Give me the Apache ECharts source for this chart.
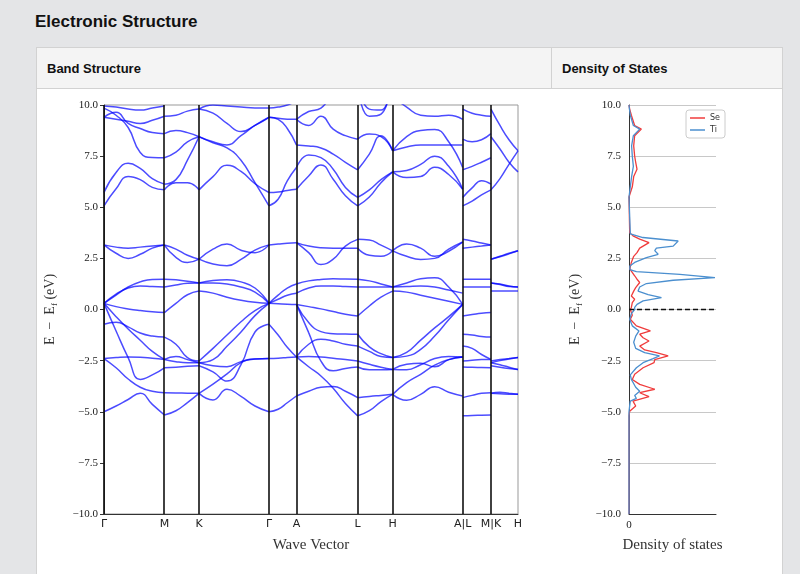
<!DOCTYPE html>
<html>
<head>
<meta charset="UTF-8">
<title>Electronic Structure</title>
<script src="https://cdn.jsdelivr.net/npm/echarts/dist/echarts.min.js"></script>
<style>
  body { margin:0; background:#e4e5e7; width:800px; height:574px; overflow:hidden; font-family:'Liberation Sans', Arial, sans-serif; }
  #title { position:absolute; left:35px; top:12px; font-size:17px; font-weight:bold; color:#111; }
  #panel { position:absolute; left:36px; top:47px; width:745px; height:540px; background:#fff; border:1px solid #d2d2d2; }
  #head { position:relative; height:40px; background:#f4f4f4; border-bottom:1px solid #d2d2d2; }
  #head .col1 { position:absolute; left:0; top:0; width:514px; height:40px; border-right:1px solid #d2d2d2; }
  #head span { position:absolute; top:13px; font-size:13px; font-weight:bold; color:#111; }
  #main { position:absolute; left:0; top:0; width:800px; height:574px; }
</style>
</head>
<body>
<div id="title">Electronic Structure</div>
<div id="panel">
  <div id="head">
    <div class="col1"><span style="left:10px">Band Structure</span></div>
    <span style="left:525px">Density of States</span>
  </div>
</div>
<div id="main"></div>

<script type="text/javascript">
// high symmetry points along the path
var kNodes = [0, 1.025, 1.613, 2.801, 3.267, 4.307, 4.901, 6.090, 6.570, 7.029];
var kLabels = ['\u0393', 'M', 'K', '\u0393', 'A', 'L', 'H', 'A|L', 'M|K', 'H'];

// band energies (eV) sampled evenly along each segment
var bandsGM = [
  [0.3, 0.14, 0.03, -0.05, -0.11, -0.15],
  [-0.72, -0.62, -0.85, -1.15, -1.3, -1.35],
  [0.3, -0.35, -0.95, -1.5, -2.05, -2.44],
  [0.3, -1.05, -2.35, -3.42, -3.2, -2.85],
  [-2.4, -2.35, -2.32, -2.33, -2.38, -2.44],
  [-2.4, -2.85, -3.4, -3.8, -4.0, -4.07],
  [-5.0, -4.72, -4.4, -4.1, -4.64, -5.16],
  [0.3, 0.75, 1.05, 1.15, 1.12, 1.1],
  [0.3, 0.7, 1.1, 1.35, 1.47, 1.48],
  [3.16, 3.05, 3.0, 3.05, 3.1, 3.15],
  [3.16, 2.75, 2.5, 2.7, 3.0, 3.15],
  [5.07, 5.9, 6.5, 6.35, 5.97, 5.85],
  [5.72, 6.7, 7.15, 6.9, 6.4, 6.13],
  [9.85, 9.5, 8.9, 7.68, 7.43, 7.42],
  [9.4, 9.64, 9.1, 8.85, 8.65, 8.6],
  [9.4, 9.3, 9.2, 9.1, 9.25, 9.45],
  [9.95, 9.9, 9.8, 9.75, 9.85, 9.95]
];
var bandsMK = [
  [-0.15, 0.3, 0.72, 0.9],
  [-1.35, -1.7, -2.35, -2.52],
  [-2.44, -2.3, -2.45, -2.6],
  [-2.44, -2.55, -2.6, -2.6],
  [-2.85, -2.82, -2.78, -2.75],
  [-4.07, -4.08, -4.09, -4.1],
  [-5.16, -4.95, -4.55, -4.1],
  [1.1, 1.2, 1.28, 1.3],
  [1.48, 1.45, 1.38, 1.3],
  [3.15, 2.95, 2.65, 2.46],
  [3.15, 2.55, 2.3, 2.46],
  [5.85, 6.2, 6.2, 5.85],
  [6.13, 6.35, 7.3, 8.45],
  [7.42, 7.7, 8.2, 8.45],
  [8.6, 8.75, 8.65, 8.45],
  [9.45, 9.5, 9.7, 9.8]
];
var bandsKG = [
  [0.9, 0.8, 0.6, 0.45, 0.35, 0.3],
  [-2.52, -1.9, -1.25, -0.6, -0.05, 0.3],
  [-2.6, -2.45, -1.8, -1.1, -0.3, 0.3],
  [-2.75, -3.05, -3.5, -2.7, -1.1, -0.72],
  [-2.6, -2.75, -2.8, -2.55, -2.42, -2.4],
  [-4.1, -3.65, -3.15, -2.6, -2.42, -2.4],
  [-4.1, -4.42, -3.9, -4.25, -4.72, -5.0],
  [1.3, 1.3, 1.25, 1.1, 0.85, 0.3],
  [1.3, 1.42, 1.45, 1.35, 1.05, 0.3],
  [2.46, 2.95, 3.2, 2.9, 2.78, 3.16],
  [2.46, 2.22, 2.14, 2.45, 2.9, 3.16],
  [5.85, 6.5, 7.05, 6.75, 6.15, 5.72],
  [8.45, 8.15, 7.9, 7.3, 6.2, 5.07],
  [8.45, 8.2, 8.05, 8.5, 9.0, 9.4],
  [9.8, 9.6, 9.1, 8.7, 9.0, 9.4],
  [9.8, 10.0, 9.95, 9.9, 9.85, 9.85]
];
var bandsGA = [
  [0.3, 0.28, 0.26, 0.25],
  [-0.72, -1.25, -1.85, -2.32],
  [-2.4, -2.38, -2.35, -2.32],
  [-5.0, -4.88, -4.56, -4.23],
  [0.3, 0.5, 0.7, 0.8],
  [0.3, 0.7, 1.05, 1.25],
  [3.16, 3.2, 3.24, 3.27],
  [5.72, 5.75, 5.82, 5.88],
  [5.07, 5.39, 6.29, 6.94],
  [9.4, 9.3, 8.85, 8.05],
  [9.4, 9.35, 9.3, 9.3],
  [9.85, 9.9, 10.0, 10.2]
];
var bandsAL = [
  [0.25, 0.14, 0.03, -0.1, -0.23, -0.32],
  [0.25, -0.64, -1.08, -1.18, -1.2, -1.21],
  [0.25, -1.13, -2.52, -3.0, -2.88, -2.81],
  [-2.32, -1.7, -1.46, -1.54, -1.7, -1.79],
  [-2.32, -2.3, -2.32, -2.38, -2.45, -2.52],
  [-2.32, -2.8, -3.25, -3.85, -4.6, -5.2],
  [-4.23, -4.0, -3.8, -3.76, -4.0, -4.31],
  [0.8, 1.05, 1.15, 1.15, 1.12, 1.1],
  [1.25, 1.4, 1.47, 1.5, 1.49, 1.48],
  [3.27, 3.1, 3.02, 3.0, 3.0, 3.0],
  [3.27, 2.78, 2.2, 2.46, 3.1, 3.43],
  [5.88, 6.53, 7.07, 6.37, 5.56, 5.07],
  [6.94, 7.55, 7.43, 6.86, 5.97, 5.48],
  [8.05, 8.0, 7.9, 7.6, 7.2, 6.83],
  [9.3, 9.0, 9.45, 8.82, 8.5, 8.33],
  [9.3, 9.68, 9.85, 10.6, 11.2, 11.8]
];
var bandsLH = [
  [-0.32, 0.17, 0.6, 0.9],
  [-1.21, -1.83, -2.16, -2.35],
  [-1.79, -2.05, -2.3, -2.35],
  [-2.52, -2.68, -2.82, -2.93],
  [-2.81, -2.95, -2.95, -2.93],
  [-5.2, -4.95, -4.5, -4.15],
  [-4.31, -4.25, -4.2, -4.15],
  [1.1, 1.1, 1.1, 1.1],
  [1.48, 1.4, 1.25, 1.1],
  [3.43, 3.4, 3.15, 2.87],
  [3.0, 2.65, 2.6, 2.87],
  [5.07, 5.5, 6.2, 6.73],
  [5.48, 5.85, 6.35, 6.73],
  [6.83, 7.6, 8.5, 7.76],
  [8.33, 8.58, 8.45, 7.76],
  [11.0, 9.45, 9.55, 11.5],
  [11.2, 9.8, 9.75, 11.6]
];
var bandsHA = [
  [0.9, 0.85, 0.7, 0.55, 0.4, 0.25],
  [1.1, 1.3, 1.5, 1.55, 1.1, 0.25],
  [1.1, 1.12, 1.15, 1.1, 0.95, 0.8],
  [-2.35, -2.28, -1.95, -1.3, -0.5, 0.25],
  [-2.35, -2.1, -1.5, -0.9, -0.35, 0.25],
  [-2.93, -2.68, -2.63, -2.8, -2.45, -2.32],
  [-2.93, -2.95, -2.7, -2.4, -2.3, -2.32],
  [-4.15, -3.58, -3.17, -2.72, -2.45, -2.32],
  [-4.15, -4.44, -4.15, -3.78, -4.05, -4.23],
  [2.87, 3.2, 3.0, 2.6, 2.85, 3.3],
  [2.87, 2.6, 2.45, 2.5, 2.95, 3.3],
  [6.73, 6.8, 7.1, 7.5, 7.0, 5.88],
  [6.73, 6.45, 6.5, 6.95, 6.6, 5.88],
  [7.76, 8.45, 8.75, 8.8, 8.2, 6.94],
  [7.76, 7.95, 8.05, 8.05, 8.05, 8.05],
  [10.4, 9.9, 9.5, 9.45, 9.5, 9.3]
];
var bandsLM = [
  [-0.32, -0.25, -0.18, -0.15],
  [-1.21, -1.25, -1.32, -1.35],
  [-1.79, -1.9, -2.2, -2.44],
  [-2.52, -2.48, -2.45, -2.44],
  [-2.81, -2.83, -2.84, -2.85],
  [-4.31, -4.2, -4.1, -4.07],
  [-5.2, -5.18, -5.17, -5.16],
  [1.1, 1.1, 1.1, 1.1],
  [1.48, 1.48, 1.48, 1.48],
  [3.43, 3.35, 3.25, 3.15],
  [3.0, 3.05, 3.1, 3.15],
  [5.07, 5.3, 5.6, 5.85],
  [5.48, 5.95, 6.3, 6.13],
  [6.83, 7.0, 7.2, 7.42],
  [8.33, 8.2, 8.3, 8.6],
  [9.8, 9.6, 9.5, 9.45]
];
var bandsKH = [
  [0.9, 0.9, 0.9, 0.9],
  [1.3, 1.25, 1.15, 1.1],
  [1.3, 1.22, 1.12, 1.1],
  [-2.52, -2.45, -2.4, -2.35],
  [-2.6, -2.5, -2.42, -2.35],
  [-2.6, -2.7, -2.82, -2.93],
  [-2.75, -2.82, -2.88, -2.93],
  [-4.1, -4.12, -4.14, -4.15],
  [-4.1, -4.05, -4.1, -4.15],
  [2.46, 2.6, 2.75, 2.87],
  [2.46, 2.58, 2.72, 2.87],
  [5.85, 6.4, 7.1, 7.76],
  [8.45, 7.85, 7.2, 6.73],
  [9.8, 9.0, 8.3, 7.76]
];

// density of states (energy, dos)
var seE = [10.0, 9.8, 9.5, 9.0, 8.82, 8.5, 8.0, 7.5, 7.2, 6.86, 6.5, 6.0, 5.5, 3.76, 3.6, 3.44, 3.27, 3.0, 2.78, 2.6, 2.3, 2.21, 2.0, 1.88, 1.65, 1.48, 1.32, 1.07, 0.9, 0.66, 0.5, 0.34, 0.1, 0.0, -0.28, -0.48, -0.8, -1.05, -1.21, -1.38, -1.54, -1.79, -1.98, -2.11, -2.27, -2.45, -2.6, -2.85, -3.17, -3.42, -3.66, -3.9, -4.07, -4.26, -4.48, -4.72, -4.97, -5.2, -10.0];
var seDos = [0, 0.08, 0.27, 0.65, 1.42, 0.65, 0.54, 0.65, 0.77, 0.92, 0.54, 0.38, 0, 0.08, 0.46, 1.23, 2.3, 1.23, 0.92, 0.54, 0.27, 0.08, 0.1, 0.27, 0.65, 0.92, 1.23, 0.77, 0.54, 0.27, 0.65, 0.38, 0.27, 0.15, 0.38, 0.15, 0.85, 2.46, 1.23, 1.62, 2.3, 1.23, 1.8, 3.15, 4.5, 2.96, 2.88, 1.62, 0.65, 0.38, 1.23, 2.96, 1.23, 2.3, 0.46, 0.77, 0.08, 0, 0];
var tiE = [10.0, 9.8, 9.5, 9.0, 8.82, 8.5, 8.0, 7.5, 7.0, 6.5, 6.0, 5.5, 3.7, 3.52, 3.35, 3.1, 3.0, 2.88, 2.7, 2.54, 2.3, 2.13, 1.95, 1.85, 1.72, 1.56, 1.43, 1.27, 1.1, 0.9, 0.73, 0.58, 0.42, 0.25, 0.1, 0.0, -0.2, -0.48, -0.8, -1.05, -1.3, -1.6, -1.9, -2.11, -2.27, -2.4, -2.6, -2.85, -3.2, -3.42, -3.8, -4.0, -4.2, -4.35, -4.48, -4.7, -5.0, -10.0];
var tiDos = [0, 0.05, 0.15, 0.5, 1.23, 0.5, 0.3, 0.38, 0.5, 0.3, 0.15, 0, 0.15, 1.6, 5.65, 5.08, 3.15, 2.96, 3.35, 2.0, 0.65, 0.1, 0.1, 0.85, 5.85, 9.88, 5.08, 2.0, 1.23, 1.04, 2.2, 3.73, 1.62, 0.92, 0.65, 0.65, 0.27, 0.08, 0.38, 1.15, 0.77, 0.54, 0.77, 1.8, 3.5, 2.77, 1.62, 0.85, 0.15, 0.27, 0.77, 1.23, 0.65, 0.85, 0.15, 0.08, 0, 0];

var segments = [
  [0, 1, bandsGM], [1, 2, bandsMK], [2, 3, bandsKG], [3, 4, bandsGA], [4, 5, bandsAL],
  [5, 6, bandsLH], [6, 7, bandsHA], [7, 8, bandsLM], [8, 9, bandsKH]
];

function fmtE(v) {
  return (v < 0 ? '\u2212' : '') + Math.abs(v).toFixed(1);
}
function kLabel(v) {
  for (var i = 0; i < kNodes.length; i++) {
    if (Math.abs(kNodes[i] - v) < 1e-6) return kLabels[i];
  }
  return '';
}

var serifFont = 'Liberation Serif';
var eName = '{a|E  \u2212  E}{b|f}{a| (eV)}';
var eNameStyle = {
  color: '#333',
  rich: {
    a: { fontFamily: serifFont, fontSize: 14, color: '#333', lineHeight: 18, verticalAlign: 'middle' },
    b: { fontFamily: serifFont, fontSize: 9, color: '#333', lineHeight: 18, verticalAlign: 'bottom' }
  }
};

var series = [];

// vertical lines at high symmetry points
series.push({
  type: 'line', xAxisIndex: 0, yAxisIndex: 0, data: [[0, -20]], showSymbol: false, silent: true,
  lineStyle: { opacity: 0 },
  markLine: {
    silent: true, symbol: ['none', 'none'], label: { show: false }, animation: false,
    lineStyle: { color: '#111', width: 1.6, type: 'solid' },
    data: kNodes.map(function (k) { return { xAxis: k }; })
  }
});

segments.forEach(function (seg) {
  var a = seg[0], b = seg[1];
  seg[2].forEach(function (band) {
    var n = band.length;
    series.push({
      type: 'line', xAxisIndex: 0, yAxisIndex: 0, smooth: 0.5, showSymbol: false, silent: true, clip: true,
      lineStyle: { color: 'rgba(0,0,255,0.7)', width: 1.5 },
      data: band.map(function (e, i) { return [kNodes[a] + (kNodes[b] - kNodes[a]) * i / (n - 1), e]; })
    });
  });
});

series.push({
  name: 'Se', type: 'line', xAxisIndex: 1, yAxisIndex: 1, showSymbol: false, silent: true,
  lineStyle: { color: '#f03c3c', width: 1.3 }, itemStyle: { color: '#f03c3c' },
  data: seE.map(function (e, i) { return [seDos[i], e]; }),
  markLine: {
    silent: true, symbol: ['none', 'none'], label: { show: false }, animation: false,
    lineStyle: { color: '#111', width: 1.3, type: [5, 3] },
    data: [{ yAxis: 0 }]
  }
});
series.push({
  name: 'Ti', type: 'line', xAxisIndex: 1, yAxisIndex: 1, showSymbol: false, silent: true,
  lineStyle: { color: '#4b8fcf', width: 1.3 }, itemStyle: { color: '#4b8fcf' },
  data: tiE.map(function (e, i) { return [tiDos[i], e]; })
});

var chart = echarts.init(document.getElementById('main'), null, { renderer: 'canvas' });
chart.setOption({
  animation: false,
  backgroundColor: 'transparent',
  grid: [
    { left: 104, top: 105, width: 414, height: 409, show: true, borderColor: '#999', borderWidth: 1 },
    { left: 629, top: 105, width: 87, height: 409 }
  ],
  legend: {
    data: ['Se', 'Ti'], orient: 'vertical', left: 686, top: 110, icon: 'rect',
    itemWidth: 15, itemHeight: 1.5, itemGap: 4, padding: [4, 5, 4, 4],
    borderColor: '#ccc', borderWidth: 1, borderRadius: 3, backgroundColor: '#fff',
    textStyle: { fontSize: 8, fontFamily: 'DejaVu Sans', color: '#333' }
  },
  xAxis: [
    {
      gridIndex: 0, type: 'value', min: 0, max: kNodes[kNodes.length - 1],
      axisLine: { show: true, onZero: false, lineStyle: { color: '#333' } },
      axisTick: { show: false }, splitLine: { show: false },
      axisLabel: { customValues: kNodes, formatter: kLabel, fontFamily: 'DejaVu Sans', fontSize: 11, color: '#222', margin: 5 },
      name: 'Wave Vector', nameLocation: 'middle', nameGap: 24,
      nameTextStyle: { fontFamily: serifFont, fontSize: 15, color: '#333' }
    },
    {
      gridIndex: 1, type: 'value', min: 0, max: 10, interval: 10,
      axisLine: { show: true, onZero: false, lineStyle: { color: '#333' } },
      axisTick: { show: false }, splitLine: { show: false },
      axisLabel: { formatter: function (v) { return v === 0 ? '0' : ''; }, fontFamily: serifFont, fontSize: 11, color: '#222', margin: 6 },
      name: 'Density of states', nameLocation: 'middle', nameGap: 24,
      nameTextStyle: { fontFamily: serifFont, fontSize: 15, color: '#333' }
    }
  ],
  yAxis: [
    {
      gridIndex: 0, type: 'value', min: -10, max: 10, interval: 2.5,
      axisLine: { show: true, lineStyle: { color: '#333' } },
      axisTick: { show: true, inside: false, length: 4, lineStyle: { color: '#333' } },
      splitLine: { show: false },
      axisLabel: { formatter: fmtE, fontFamily: serifFont, fontSize: 11, color: '#222', margin: 6 },
      name: eName, nameLocation: 'middle', nameGap: 45, nameTextStyle: eNameStyle
    },
    {
      gridIndex: 1, type: 'value', min: -10, max: 10, interval: 2.5,
      axisLine: { show: true, lineStyle: { color: '#333' } },
      axisTick: { show: false },
      splitLine: { show: true, lineStyle: { color: '#c8c8c8', width: 1 } },
      axisLabel: { formatter: fmtE, fontFamily: serifFont, fontSize: 11, color: '#222', margin: 8 },
      name: eName, nameLocation: 'middle', nameGap: 45, nameTextStyle: eNameStyle
    }
  ],
  series: series
});
</script>
</body>
</html>
